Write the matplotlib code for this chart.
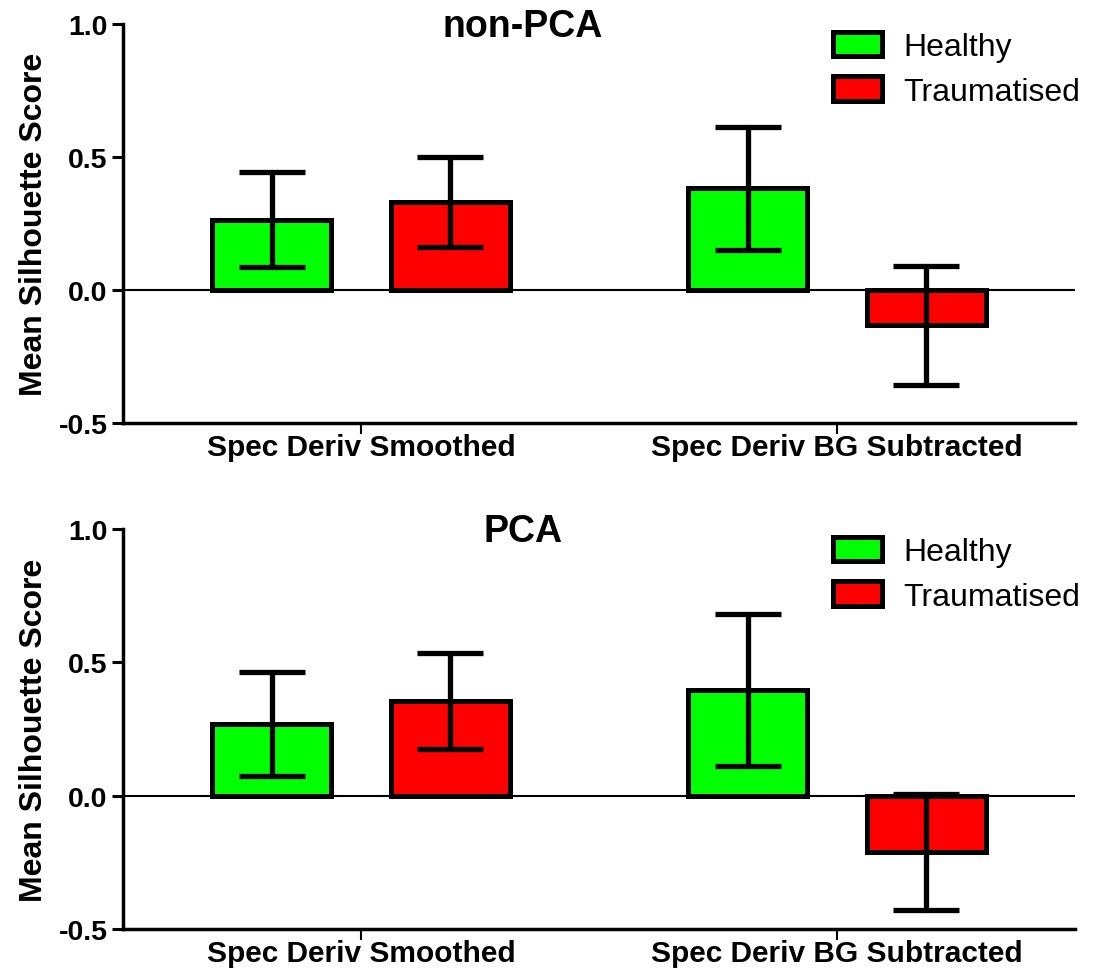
import numpy as np
import matplotlib
matplotlib.use('Agg')
import matplotlib.pyplot as plt

plt.rcParams['font.family'] = ['Liberation Sans', 'DejaVu Sans']

groups = ['Spec Deriv Smoothed', 'Spec Deriv BG Subtracted']
series = ['Healthy', 'Traumatised']
colors = ['#00ff00', '#ff0000']

# non-PCA panel
nonpca_healthy = [0.264, 0.382]
nonpca_healthy_err = [0.178, 0.230]
nonpca_trauma = [0.330, -0.133]
nonpca_trauma_err = [0.170, 0.223]

# PCA panel
pca_healthy = [0.268, 0.395]
pca_healthy_err = [0.194, 0.285]
pca_trauma = [0.355, -0.211]
pca_trauma_err = [0.181, 0.217]

yticks = [-0.5, 0.0, 0.5, 1.0]


def draw_panel(ax, title, healthy, healthy_err, trauma, trauma_err):
    x = np.arange(len(groups))
    offset = 0.1875
    width = 0.25

    ax.axhline(0, color='black', lw=1.5, zorder=1)
    for vals, errs, col, lab, sign in [(healthy, healthy_err, colors[0], series[0], -1),
                                       (trauma, trauma_err, colors[1], series[1], 1)]:
        ax.bar(x + sign * offset, vals, width, color=col, edgecolor='black',
               linewidth=3.6, label=lab, zorder=2)
        eb = ax.errorbar(x + sign * offset, vals, yerr=errs, fmt='none', ecolor='black',
                         elinewidth=3.8, capsize=23.5, capthick=3.8, zorder=3)
        for c in eb[1]:
            c.set_solid_capstyle('round')
        for l in eb[2]:
            l.set_capstyle('round')

    ax.set_xlim(-0.5, 1.5)
    ax.set_ylim(-0.5, 1.0)
    ax.set_yticks(yticks)
    ax.set_yticklabels([f'{t:.1f}' for t in yticks], fontsize=20.5, fontweight='bold')
    ax.set_xticks(x)
    ax.set_xticklabels(groups, fontsize=21.5, fontweight='bold')
    ax.tick_params(axis='y', length=8, width=2.2, pad=3)
    ax.tick_params(axis='x', length=8, width=1.5, pad=-1)

    ax.spines['top'].set_visible(False)
    ax.spines['right'].set_visible(False)
    ax.spines['left'].set_linewidth(2.5)
    ax.spines['bottom'].set_linewidth(2.5)

    ax.set_ylabel('Mean Silhouette Score', fontsize=23, fontweight='bold', labelpad=7)
    ax.text(0.42, 0.97, title, transform=ax.transAxes, ha='center', va='baseline',
            fontsize=27, fontweight='bold')

    ax.legend(loc='upper left', bbox_to_anchor=(0.746, 0.98), frameon=False,
              fontsize=23, handlelength=1.53, handleheight=0.8, handletextpad=0.66,
              labelspacing=0.44, borderpad=0, borderaxespad=0)


fig = plt.figure(figsize=(10.94, 9.70), dpi=100)
ax1 = fig.add_axes([0.1124, 0.5629, 0.8702, 0.4113])
ax2 = fig.add_axes([0.1124, 0.0412, 0.8702, 0.4124])

draw_panel(ax1, 'non-PCA', nonpca_healthy, nonpca_healthy_err, nonpca_trauma, nonpca_trauma_err)
draw_panel(ax2, 'PCA', pca_healthy, pca_healthy_err, pca_trauma, pca_trauma_err)

fig.savefig('out.png', dpi=100)
